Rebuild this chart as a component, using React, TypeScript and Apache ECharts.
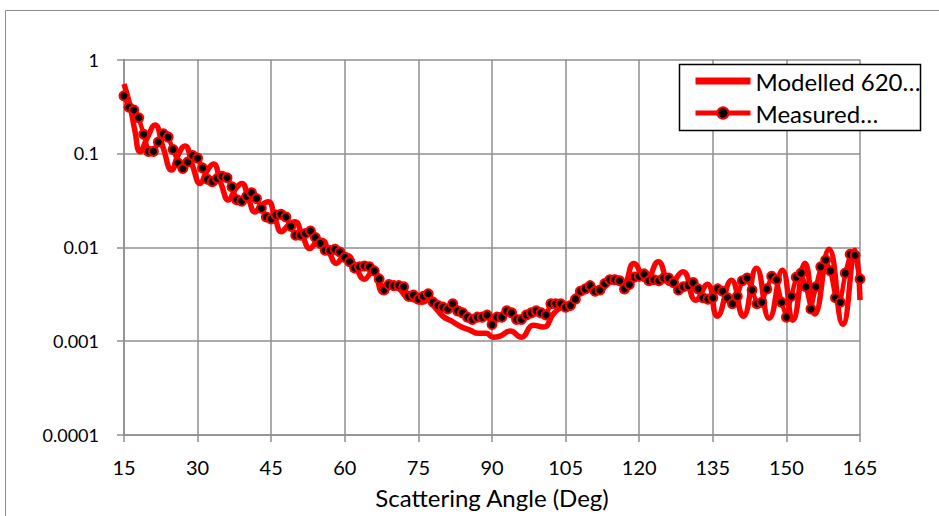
import React, { useEffect, useRef } from 'react';
import * as echarts from 'echarts';

const measuredAngles = [
  15, 16, 17, 18, 19, 20, 21, 22, 23, 24, 25, 26, 27, 28, 29, 30, 31, 32, 33, 34,
  35, 36, 37, 38, 39, 40, 41, 42, 43, 44, 45, 46, 47, 48, 49, 50, 51, 52, 53, 54,
  55, 56, 57, 58, 59, 60, 61, 62, 63, 64, 65, 66, 67, 68, 69, 70, 71, 72, 73, 74,
  75, 76, 77, 78, 79, 80, 81, 82, 83, 84, 85, 86, 87, 88, 89, 90, 91, 92, 93, 94,
  95, 96, 97, 98, 99, 100, 101, 102, 103, 104, 105, 106, 107, 108, 109, 110, 111, 112, 113, 114,
  115, 116, 117, 118, 119, 120, 121, 122, 123, 124, 125, 126, 127, 128, 129, 130, 131, 132, 133, 134,
  135, 136, 137, 138, 139, 140, 141, 142, 143, 144, 145, 146, 147, 148, 149, 150, 151, 152, 153, 154,
  155, 156, 157, 158, 159, 160, 161, 162, 163, 164, 165,
];

const measuredValues = [
  0.41, 0.31, 0.29, 0.24, 0.16, 0.105, 0.105, 0.132, 0.162, 0.149,
  0.110, 0.079, 0.069, 0.081, 0.095, 0.089, 0.070, 0.053, 0.050, 0.054,
  0.057, 0.055, 0.044, 0.032, 0.031, 0.035, 0.038, 0.033, 0.026, 0.021,
  0.020, 0.022, 0.0224, 0.021, 0.0167, 0.0134, 0.0134, 0.014, 0.0149, 0.0127,
  0.011, 0.0093, 0.0092, 0.0095, 0.0089, 0.0078, 0.0070, 0.0060, 0.0062, 0.0063,
  0.0062, 0.0056, 0.0046, 0.0035, 0.0040, 0.0039, 0.0039, 0.0038, 0.0030, 0.0031,
  0.0028, 0.0030, 0.0032, 0.0026, 0.0024, 0.0023, 0.0022, 0.0025, 0.0021, 0.0020,
  0.0018, 0.0017, 0.0018, 0.0018, 0.0019, 0.0015, 0.0018, 0.0018, 0.0021, 0.0020,
  0.0017, 0.0017, 0.0019, 0.0020, 0.0021, 0.0020, 0.0019, 0.0025, 0.0025, 0.0025,
  0.0023, 0.0024, 0.0028, 0.0034, 0.0036, 0.0039, 0.0034, 0.0035, 0.0041, 0.0045,
  0.0045, 0.0044, 0.0036, 0.0040, 0.0048, 0.0049, 0.0052, 0.0044, 0.0045, 0.0044,
  0.0047, 0.0047, 0.0042, 0.0035, 0.0038, 0.0039, 0.0042, 0.0036, 0.0029, 0.0028,
  0.0029, 0.0036, 0.0034, 0.0029, 0.0025, 0.0030, 0.0044, 0.0047, 0.0035, 0.0025,
  0.0026, 0.0036, 0.0049, 0.0045, 0.0026, 0.0018, 0.0030, 0.0048, 0.0053, 0.0038,
  0.0022, 0.0038, 0.0062, 0.0073, 0.0056, 0.0029, 0.0026, 0.0053, 0.0084, 0.0082,
  0.0046,
];

const modelAngles = [
  15, 16.2, 17.2, 18.3, 19.8, 21.3, 23.0, 24.7, 26.1, 27.4, 29.0, 30.5, 31.9, 33.2,
  34.8, 36.3, 37.7, 39.0, 40.4, 41.7, 43.0, 44.4, 45.8, 47.1, 48.5, 49.8, 51.4, 52.9,
  54.2, 55.3, 56.8, 58.3, 59.4, 60.4, 62.3, 64.0, 65.8, 67.8, 69.6, 71.0, 72.6, 74.3,
  75.8, 77.0, 78.5, 80.0, 81.8, 83.5, 85.5, 87.2, 88.8, 90.3, 91.6, 93.7, 96.0, 98.4,
  100.5, 102.6, 104.5, 106.0, 107.5, 109.0, 110.5, 112.0, 113.5, 115.0, 116.8, 118.9,
  121.4, 123.9, 126.3, 128.9, 131.5, 133.9, 135.9, 138.8, 141.2, 143.9, 146.5, 149.2,
  151.3, 153.8, 155.8, 158.7, 161.5, 164.0, 165.0,
];

const modelValues = [
  0.548, 0.327, 0.177, 0.104, 0.149, 0.200, 0.114, 0.0664, 0.0983, 0.120, 0.0732, 0.0479, 0.0648, 0.0769,
  0.0471, 0.0318, 0.0416, 0.0479, 0.0326, 0.0238, 0.0281, 0.0305, 0.0204, 0.0146, 0.0172, 0.0187, 0.0131, 0.0097,
  0.0113, 0.0119, 0.00887, 0.00672, 0.00766, 0.00824, 0.00599, 0.00457, 0.00570, 0.00332, 0.00404, 0.00366, 0.00294, 0.00273,
  0.00260, 0.00273, 0.00224, 0.00184, 0.00163, 0.00144, 0.00131, 0.00121, 0.00121, 0.00110, 0.00113, 0.00128, 0.00110, 0.00148,
  0.00141, 0.00198, 0.00235, 0.00247, 0.00316, 0.00366, 0.00349, 0.00349, 0.00414, 0.00480, 0.00414, 0.00672,
  0.00446, 0.00699, 0.00411, 0.00547, 0.00273, 0.00404, 0.00184, 0.00446, 0.00184, 0.00599, 0.00175, 0.00570,
  0.00167, 0.00677, 0.00194, 0.00955, 0.00151, 0.00931, 0.00273,
];

const xTicks = [15, 30, 45, 60, 75, 90, 105, 120, 135, 150, 165];
const yTickLabels = ['0.0001', '0.001', '0.01', '0.1', '1'];

const seriesNames = ['Modelled 620…', 'Measured…'];
const xTitle = 'Scattering Angle (Deg)';

export default function App() {
  const ref = useRef<HTMLDivElement>(null);

  useEffect(() => {
    if (!ref.current) return;
    const chart = echarts.init(ref.current, null, { renderer: 'svg' });
    const gridColor = '#8f8f8f';
    const font = 'Lato, "Open Sans", sans-serif';

    const option = {
      animation: false,
      backgroundColor: '#ffffff',
      grid: { left: 124, right: 79, top: 59.5, bottom: 81, containLabel: false },
      graphic: [
        {
          type: 'rect',
          z: 0,
          silent: true,
          shape: { x: 5.5, y: 10.5, width: 1000, height: 600 },
          style: { fill: 'none', stroke: '#8c8c8c', lineWidth: 1 },
        },
        {
          type: 'rect',
          z: 10,
          silent: true,
          shape: { x: 679.5, y: 64.5, width: 241, height: 66 },
          style: { fill: '#ffffff', stroke: '#000000', lineWidth: 1.5 },
        },
      ],
      legend: {
        z: 20,
        orient: 'vertical',
        left: 693,
        top: 69,
        itemWidth: 55,
        itemHeight: 14,
        itemGap: 8,
        padding: 0,
        textStyle: { fontFamily: font, fontSize: 24, color: '#000', lineHeight: 24 },
        data: [
          { name: seriesNames[0], icon: 'path://M0,0H55V7H0Z', itemStyle: { color: '#ff0000' } },
          {
            name: seriesNames[1],
            lineStyle: { width: 5, color: '#ff0000' },
            itemStyle: { color: '#000000', borderColor: '#ff0000', borderWidth: 2 },
          },
        ],
      },
      xAxis: {
        type: 'value',
        min: 15,
        max: 165,
        interval: 15,
        name: xTitle,
        nameLocation: 'middle',
        nameGap: 50,
        nameTextStyle: { fontFamily: font, fontSize: 24, color: '#000' },
        axisLine: { show: true, lineStyle: { color: gridColor, width: 1.5 } },
        axisTick: { show: true, length: 7, lineStyle: { color: gridColor, width: 1.5 } },
        axisLabel: {
          margin: 22,
          fontFamily: font,
          fontSize: 20,
          color: '#000',
          formatter: (v: number) => (xTicks.includes(v) ? String(v) : ''),
        },
        splitLine: { show: true, lineStyle: { color: gridColor, width: 1.5 } },
      },
      yAxis: {
        type: 'log',
        logBase: 10,
        min: 0.0001,
        max: 1,
        axisLine: { show: true, lineStyle: { color: gridColor, width: 1.5 } },
        axisTick: { show: true, length: 7, lineStyle: { color: gridColor, width: 1.5 } },
        axisLabel: {
          margin: 25,
          fontFamily: font,
          fontSize: 18,
          color: '#000',
          formatter: (v: number) => {
            const i = Math.round(Math.log10(v)) + 4;
            return yTickLabels[i] ?? '';
          },
        },
        splitLine: { show: true, lineStyle: { color: gridColor, width: 1.5 } },
      },
      series: [
        {
          name: seriesNames[0],
          type: 'line',
          smooth: 0.5,
          symbol: 'none',
          showSymbol: false,
          z: 2,
          lineStyle: { color: '#ff0000', width: 5.5 },
          itemStyle: { color: '#ff0000' },
          data: modelAngles.map((a, i) => [a, modelValues[i]]),
        },
        {
          name: seriesNames[1],
          type: 'line',
          smooth: false,
          symbol: 'circle',
          symbolSize: 9,
          z: 3,
          lineStyle: { color: '#ff0000', width: 4.5 },
          itemStyle: { color: '#000000', borderColor: '#ff0000', borderWidth: 2 },
          data: measuredAngles.map((a, i) => [a, measuredValues[i]]),
        },
      ],
    };

    chart.setOption(option as any);
    return () => chart.dispose();
  }, []);

  return (
    <div
      ref={ref}
      style={{ position: 'absolute', left: 0, top: 0, width: 939, height: 516 }}
    />
  );
}
